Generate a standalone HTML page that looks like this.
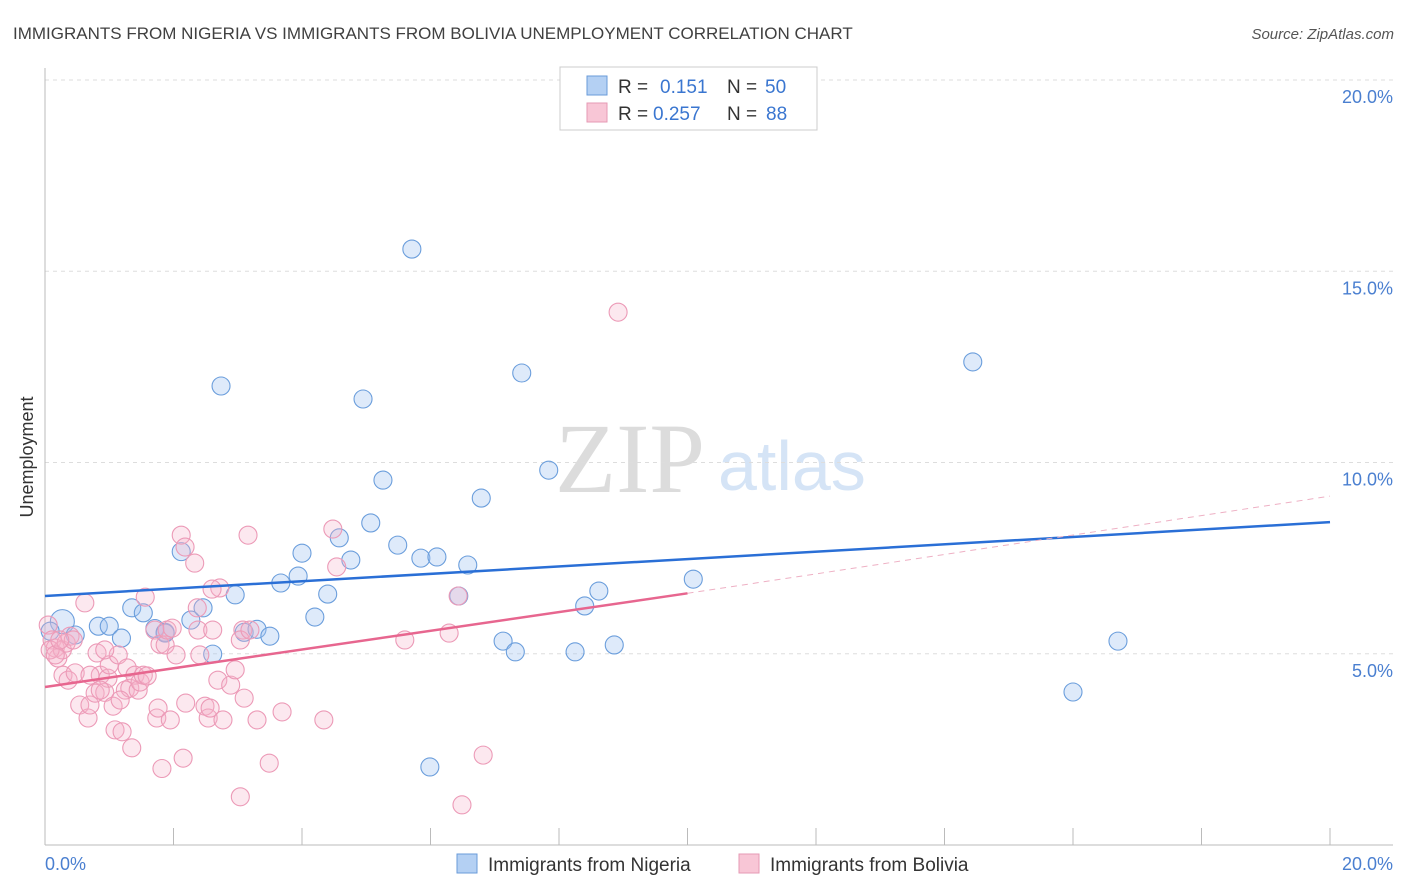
<!DOCTYPE html>
<html><head><meta charset="utf-8"><style>
body{margin:0;background:#fff;font-family:"Liberation Sans",sans-serif;}
svg{display:block}
</style></head><body>
<svg width="1406" height="892" xmlns="http://www.w3.org/2000/svg">
<text x="13" y="39" font-size="17" fill="#404040">IMMIGRANTS FROM NIGERIA VS IMMIGRANTS FROM BOLIVIA UNEMPLOYMENT CORRELATION CHART</text>
<text x="1394" y="39" font-size="15" fill="#555" font-style="italic" text-anchor="end">Source: ZipAtlas.com</text>
<text x="555" y="492" font-size="100" font-family="Liberation Serif,serif" fill="#dcdcdc">ZIP</text>
<text x="718" y="490" font-size="70" fill="#d5e4f6">atlas</text>
<g id="grid"></g>
<g id="axes"></g>
<g id="pts"></g>
<g id="lines"></g>
<text transform="translate(33,457) rotate(-90)" font-size="18" fill="#333" text-anchor="middle">Unemployment</text>
<text x="45" y="870" font-size="18" fill="#4a7fd0">0.0%</text>
<text x="1393" y="870" font-size="18" fill="#4a7fd0" text-anchor="end">20.0%</text>
<g>
<rect x="560" y="67" width="257" height="63" fill="#fff" stroke="#ccc"/>
<rect x="587" y="76" width="20" height="19" fill="#b4d0f3" stroke="#6a9bd9"/>
<rect x="587" y="103" width="20" height="19" fill="#f8c6d6" stroke="#e69ab4"/>
<text x="618" y="93" font-size="19" fill="#333">R =</text><text x="660" y="93" font-size="19" fill="#3a76d0">0.151</text>
<text x="727" y="93" font-size="19" fill="#333">N =</text><text x="765" y="93" font-size="19" fill="#3a76d0">50</text>
<text x="618" y="120" font-size="19" fill="#333">R =</text><text x="653" y="120" font-size="19" fill="#3a76d0">0.257</text>
<text x="727" y="120" font-size="19" fill="#333">N =</text><text x="766" y="120" font-size="19" fill="#3a76d0">88</text>
</g>
<g>
<rect x="457" y="854" width="20" height="19" fill="#b4d0f3" stroke="#6a9bd9"/>
<text x="488" y="871" font-size="19" fill="#333">Immigrants from Nigeria</text>
<rect x="739" y="854" width="20" height="19" fill="#f8c6d6" stroke="#e69ab4"/>
<text x="770" y="871" font-size="19" fill="#333">Immigrants from Bolivia</text>
</g>
</svg>
<script>
const yTicks=[5,10,15,20];
const xTicks=[0,2,4,6,8,10,12,14,16,18,20];
const nigeriaX=[0.27,0.08,0.47,0.83,1.0,1.19,1.35,1.53,1.71,1.87,2.12,2.27,2.46,2.61,2.74,2.96,3.1,3.3,3.5,3.67,3.94,4.0,4.2,4.4,4.58,4.76,4.95,5.07,5.26,5.49,5.71,5.85,6.1,5.99,6.44,6.58,6.79,7.13,7.32,7.42,7.84,8.25,8.4,8.62,8.86,10.09,14.44,16.0,16.7,1.87];
const nigeriaY=[5.84,5.59,5.49,5.72,5.72,5.41,6.2,6.07,5.66,5.56,7.67,5.88,6.2,4.99,12.0,6.54,5.56,5.64,5.46,6.85,7.03,7.63,5.96,6.56,8.03,7.45,11.66,8.42,9.54,7.84,15.58,7.5,7.53,2.04,6.51,7.32,9.07,5.33,5.05,12.34,9.8,5.05,6.25,6.64,5.23,6.95,12.63,4.0,5.33,5.54];
const boliviaX=[0.05,0.11,0.16,0.2,0.27,0.33,0.39,0.44,0.62,0.28,0.36,0.47,0.54,0.67,0.7,0.78,0.81,0.86,0.93,0.98,1.0,1.06,1.09,1.14,1.2,1.25,1.28,1.32,1.35,1.4,1.45,1.48,1.53,1.56,1.59,1.71,1.74,1.76,1.79,1.82,1.87,1.9,1.98,2.04,2.12,2.15,2.18,2.19,2.33,2.37,2.38,2.49,2.54,2.57,2.61,2.69,2.72,2.77,2.89,2.96,3.04,3.08,3.1,3.16,3.3,3.49,3.69,4.34,4.48,4.54,5.6,6.29,6.43,6.49,6.82,8.92,0.08,0.16,0.23,0.7,0.93,1.17,2.41,3.04,0.86,3.19,1.95,2.6];
const boliviaY=[5.75,5.36,5.15,4.89,5.1,5.28,5.46,5.36,6.33,4.44,4.31,4.5,3.66,3.32,3.66,3.97,5.02,4.44,3.99,4.36,4.71,3.63,3.01,4.97,2.96,4.05,4.63,4.1,2.54,4.44,4.05,4.26,4.44,6.48,4.42,5.62,3.32,3.58,5.25,2.0,5.23,5.62,5.67,4.97,8.1,2.27,7.79,3.71,7.37,6.2,5.62,3.63,3.32,3.58,5.62,4.31,6.72,3.27,4.18,4.58,1.26,5.62,3.84,8.1,3.27,2.14,3.48,3.27,8.26,7.27,5.36,5.54,6.51,1.05,2.35,13.93,5.1,4.97,5.36,4.44,5.1,3.79,4.97,5.36,4.05,5.62,3.27,6.69];
const blueLine=[6.51,8.44];
const pinkLine=[4.13,6.58,9.12];
const NS="http://www.w3.org/2000/svg";
const X0=45,X1=1330,Y0=845,YS=38.25;
function sx(v){return X0+(v/20)*(X1-X0);}
function sy(v){return Y0-v*YS;}
function mk(t,a,p){const e=document.createElementNS(NS,t);for(const k in a)e.setAttribute(k,a[k]);document.getElementById(p).appendChild(e);return e;}
yTicks.forEach(t=>{
 const g=mk('line',{x1:45,x2:1393,y1:sy(t),y2:sy(t),stroke:'#ddd','stroke-dasharray':'4,4'},'grid');
 
 
 const l=mk('text',{x:1393,y:sy(t)+23,'font-size':18,fill:'#4a7fd0','text-anchor':'end'},'grid');
 l.textContent=t.toFixed(1)+'%';
 
 
});
const ya=mk('line',{x1:45,x2:45,y1:68,y2:845,stroke:'#bbb'},'axes');


const xa=mk('line',{x1:45,x2:1393,y1:845,y2:845,stroke:'#bbb'},'axes');


xTicks.forEach(t=>{
 const e=mk('line',{x1:sx(t),x2:sx(t),y1:828,y2:845,stroke:'#bbb'},'axes');
 
 
});
nigeriaX.forEach((x,i)=>{
 const c=mk('circle',{cx:sx(x),cy:sy(nigeriaY[i]),r:i==0?12:9,fill:'rgba(160,196,240,0.35)',stroke:'#6b9edc','stroke-width':1.1},'pts');
 
 
});
boliviaX.forEach((x,i)=>{
 const c=mk('circle',{cx:sx(x),cy:sy(boliviaY[i]),r:9,fill:'rgba(246,180,202,0.3)',stroke:'#ec9ab7','stroke-width':1.1},'pts');
 
 
});
const bl=mk('line',{x1:sx(0),y1:sy(blueLine[0]),x2:sx(20),y2:sy(blueLine[1]),stroke:'#2a6fd6','stroke-width':2.5},'lines');


const pl=mk('line',{x1:sx(0),y1:sy(pinkLine[0]),x2:sx(10),y2:sy(pinkLine[1]),stroke:'#e7668f','stroke-width':2.5},'lines');


const pd=mk('line',{x1:sx(10),y1:sy(pinkLine[1]),x2:sx(20),y2:sy(pinkLine[2]),stroke:'#eeb0c4','stroke-width':1,'stroke-dasharray':'6,5'},'lines');


</script>
</body></html>
